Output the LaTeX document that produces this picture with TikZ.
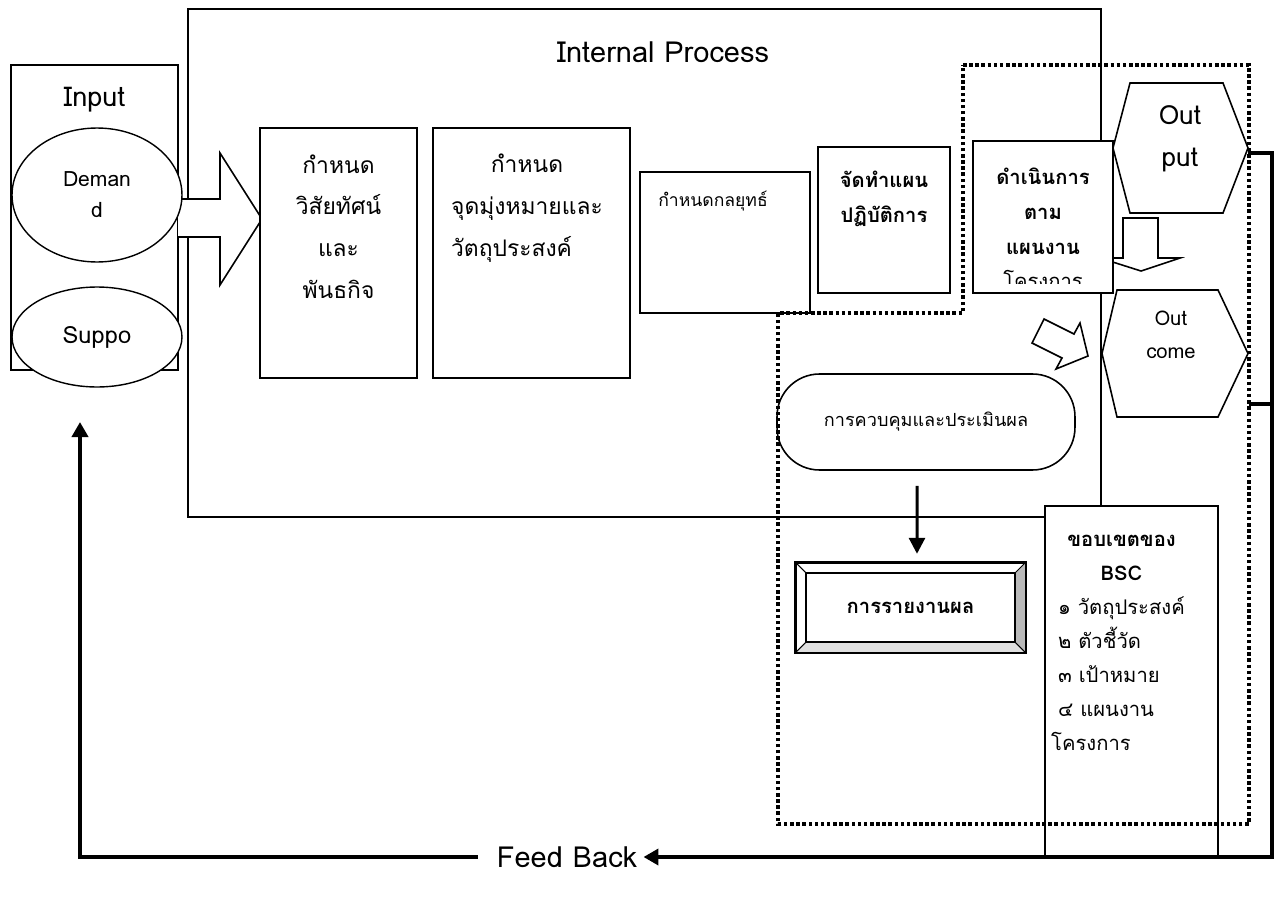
\documentclass[tikz,border=0pt]{standalone}
\usepackage{fontspec}
\setmainfont{Loma}[Script=Thai]
\usetikzlibrary{positioning,arrows.meta,shapes.geometric}
\tikzset{
  framebox/.style={draw, line width=0.8pt, inner sep=0pt},
  stepbox/.style={draw, line width=1.1pt, fill=white, inner sep=0pt},
  intext/.style={anchor=center, align=center, inner sep=0pt},
  oval/.style={draw, ellipse, line width=0.8pt, fill=white, inner sep=0pt, minimum width=3.4cm, align=center},
  hexline/.style={line width=0.9pt, line join=miter},
  blockarrow/.style={draw, line width=0.9pt, fill=white, line join=miter},
  dotregion/.style={line width=2.1pt, dash pattern=on 2pt off 1.5pt},
  downarrow/.style={-{Triangle[length=0.32cm, width=0.32cm]}, line width=1.7pt},
  fbline/.style={line width=2.2pt},
  fbarrow/.style={fbline, -{Triangle[length=0.3cm, width=0.32cm]}},
  headfont/.style={font=\fontsize{16.5}{20}\selectfont},
  bigthai/.style={font=\fontsize{13}{23.8}\selectfont},
  smallthai/.style={font=\fontsize{10}{19.5}\selectfont},
  boldthai/.style={font=\fontsize{11.5}{19.8}\selectfont\bfseries},
  bscfont/.style={font=\fontsize{11.5}{19.3}\selectfont}
}
\begin{document}
\begin{tikzpicture}[x=0.02cm, y=-0.02cm]
  \useasboundingbox (0,0) rectangle (1275,899);

  % internal process frame
  \node[framebox, minimum width=18.26cm, minimum height=10.16cm,
    label={[intext, headfont, xshift=0.37cm, yshift=-0.88cm]north:Internal Process}] (internal) at (644.5,263) {};

  % input side with the big arrow
  \node[framebox, minimum width=3.34cm, minimum height=6.1cm,
    label={[intext, font=\fontsize{15.5}{20}\selectfont, yshift=-0.7cm]north:Input}] (input) at (94.5,217.5) {};
  \draw[blockarrow] (178,199) -- (220,199) -- (220,153) -- (262,219) -- (220,285) -- (220,237) -- (178,237);
  \node[oval, minimum height=2.68cm, font=\fontsize{12}{17.6}\selectfont] (demand) at (97,195) {Deman\\d};
  \node[oval, minimum height=2.0cm, font=\fontsize{13.5}{18}\selectfont] (support) at (97,337) {Suppo};

  % planning steps
  \node[stepbox, minimum width=3.14cm, minimum height=5cm,
    label={[intext, bigthai, yshift=-1.99cm]north:{กำหนด\\วิสัยทัศน์\\และ\\พันธกิจ}}] (vision) at (338.5,253) {};
  \node[stepbox, minimum width=3.94cm, minimum height=5cm,
    label={[intext, bigthai, xshift=-0.09cm, yshift=-1.58cm]north:{\begin{tabular}{@{}l@{}}\multicolumn{1}{@{}c@{}}{กำหนด}\\จุดมุ่งหมายและ\\วัตถุประสงค์\end{tabular}}}] (goal) at (531.5,253) {};
  \node[stepbox, minimum width=3.4cm, minimum height=2.82cm,
    label={[intext, smallthai, xshift=-0.24cm, yshift=-0.6cm]north:กำหนดกลยุทธ์}] (strategy) at (725,242.5) {};
  \node[stepbox, minimum width=2.64cm, minimum height=2.92cm,
    label={[intext, boldthai, yshift=-1.05cm]north:{จัดทำแผน\\ปฏิบัติการ}}] (actionplan) at (884,220) {};

  % output arrow sits behind the operation box
  \draw[blockarrow] (1123,218) -- (1158,218) -- (1158,258) -- (1180,258) -- (1141,271) -- (1100,258) -- (1123,258) -- cycle;
  \node[stepbox, minimum width=2.8cm, minimum height=3.04cm] (operate) at (1043,217) {};
  \begin{scope}
    \clip ([yshift=0.2cm]operate.south west) rectangle (operate.north east);
    \node[intext, boldthai] (operatetext) at (1043,228.5) {ดำเนินการ\\ตาม\\แผนงาน\\\mdseries โครงการ};
  \end{scope}

  % results
  \draw[hexline] (1113,148) -- (1130,83) -- (1223,83) -- (1248,148) -- (1223,213) -- (1130,213) -- cycle;
  \node[intext, font=\fontsize{15}{23.8}\selectfont] (output) at (1180,139) {Out\\put};
  \draw[hexline] (1102,353.5) -- (1117,290) -- (1218,290) -- (1248,353.5) -- (1218,417) -- (1117,417) -- cycle;
  \node[intext, font=\fontsize{11.5}{19}\selectfont] (outcome) at (1171,335) {Out\\come};
  \draw[blockarrow] (1044,319) -- (1074,334) -- (1080,323) -- (1088,356) -- (1056,369) -- (1062,358) -- (1032,343) -- cycle;

  % control and reporting
  \node[draw, line width=0.9pt, fill=white, rounded corners=0.85cm, minimum width=5.96cm, minimum height=1.92cm, smallthai, font=\fontsize{10.3}{19.5}\selectfont] (control) at (926,422) {การควบคุมและประเมินผล};
  \node[draw, line width=1.4pt, fill=white, minimum width=4.58cm, minimum height=1.78cm, inner sep=0pt, boldthai] (report) at (910.5,607.5) {การรายงานผล};
  \fill[gray!55] (report.north east) -- (report.south east) -- ([shift={(-0.23cm,0.23cm)}]report.south east) -- ([shift={(-0.23cm,-0.23cm)}]report.north east) -- cycle;
  \fill[gray!25] (report.south west) -- (report.south east) -- ([shift={(-0.23cm,0.23cm)}]report.south east) -- ([shift={(0.23cm,0.23cm)}]report.south west) -- cycle;
  \draw[line width=1.1pt] ([shift={(0.23cm,-0.23cm)}]report.north west) rectangle ([shift={(-0.23cm,0.23cm)}]report.south east);
  \foreach \corner/\dx/\dy in {north west/1/-1, north east/-1/-1, south west/1/1, south east/-1/1}
    \draw[line width=0.6pt] (report.\corner) -- ([shift={(\dx*0.23cm,\dy*0.23cm)}]report.\corner);
  \draw[line width=1.4pt] (report.north west) rectangle (report.south east);
  \draw[downarrow] ([shift={(-0.18cm,-0.3cm)}]control.south) -- ([shift={(0.13cm,0.16cm)}]report.north);

  % balanced scorecard scope
  \node[stepbox, minimum width=3.46cm, minimum height=7.04cm,
    label={[intext, bscfont, xshift=-0.2cm, yshift=-2.73cm]north:{\begin{tabular}{@{}l@{}}\multicolumn{1}{@{}c@{}}{\bfseries ขอบเขตของ}\\\multicolumn{1}{@{}c@{}}{\bfseries BSC}\\๑ วัตถุประสงค์\\๒ ตัวชี้วัด\\๓ เป้าหมาย\\๔ แผนงาน\\\hspace*{-0.14cm}โครงการ\end{tabular}}}] (bsc) at (1131.5,682) {};

  \draw[dotregion] (963,65) -- (1249,65) -- (1249,824) -- (778,824) -- (778,313) -- (963,313) -- cycle;

  % feed back loop
  \node[headfont, inner sep=0pt] (feedback) at (567,857) {Feed Back};
  \coordinate (outputtip) at (1248,153);
  \coordinate (outcometip) at (1249,404);
  \coordinate (fbturn) at (1272,857);
  \coordinate (fbin) at (80,422);
  \draw[fbarrow, shorten >=0.12cm] (outputtip) -| (fbturn) -- (feedback.east);
  \draw[fbline] (outcometip) -- (outcometip -| fbturn);
  \draw[fbarrow, shorten <=0.38cm] (feedback.west) -| (fbin);
\end{tikzpicture}
\end{document}
